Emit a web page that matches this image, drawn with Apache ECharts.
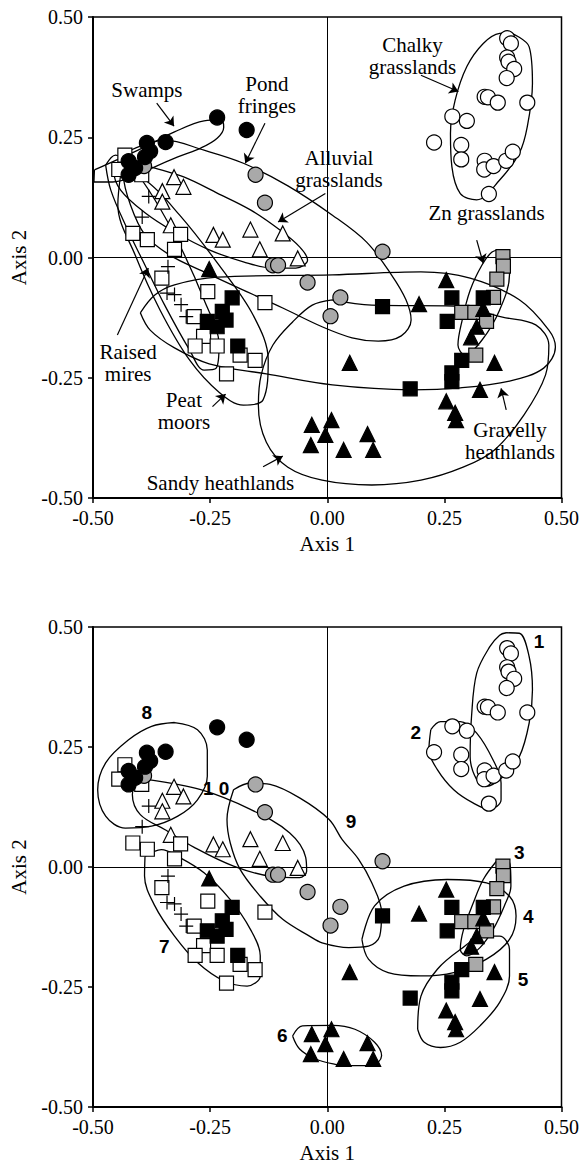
<!DOCTYPE html>
<html><head><meta charset="utf-8">
<script src="https://cdn.jsdelivr.net/npm/echarts@6/dist/echarts.min.js"></script>
<style>html,body{margin:0;padding:0;background:#fff}#c{width:582px;height:1164px}</style>
</head><body><div id="c"></div>
<script>
// ---------- data (ordination scores) ----------
const tickValues = [-0.50, -0.25, 0.00, 0.25, 0.50];

const openCircles = [[.384,.456],[.392,.445],[.384,.416],[.387,.407],[.399,.392],[.383,.373],[.336,.334],[.343,.333],[.364,.322],[.427,.322],[.267,.293],[.298,.284],[.228,.239],[.286,.234],[.286,.204],[.336,.201],[.335,.183],[.355,.190],[.382,.201],[.396,.220],[.345,.132]];
const blackCircles = [[-.235,.291],[-.172,.265],[-.345,.240],[-.385,.238],[-.378,.221],[-.389,.209],[-.424,.200],[-.410,.186],[-.424,.172]];
const greyCircles = [[-.391,.190],[-.153,.172],[-.133,.114],[-.116,-.016],[-.105,-.016],[-.042,-.052],[.007,-.122],[.028,-.083],[.118,.012]];
const openTriangles = [[-.327,.167],[-.307,.147],[-.352,.138],[-.352,.116],[-.334,.067],[-.243,.047],[-.223,.037],[-.164,.058],[-.095,.050],[-.144,.017],[-.063,-.002]];
const crosses = [[-.381,.127],[-.395,.084],[-.340,-.019],[-.342,-.074],[-.326,-.077],[-.312,-.098],[-.301,-.123]];
const openSquares = [[-.432,.213],[-.445,.183],[-.396,.172],[-.415,.050],[-.384,.037],[-.313,.048],[-.326,.017],[-.353,-.043],[-.255,-.071],[-.133,-.094],[-.284,-.123],[-.264,-.164],[-.282,-.184],[-.235,-.184],[-.186,-.203],[-.154,-.214],[-.215,-.242]];
const blackSquares = [[-.203,-.084],[-.224,-.112],[-.256,-.133],[-.235,-.144],[-.216,-.130],[-.191,-.184],[.118,-.102],[.266,-.084],[.256,-.133],[.333,-.084],[.287,-.214],[.266,-.240],[.266,-.258],[.177,-.273]];
const blackTriangles = [[-.252,-.024],[.254,-.047],[.196,-.097],[.333,-.107],[.319,-.144],[.307,-.166],[.048,-.219],[.357,-.219],[.326,-.275],[.254,-.299],[.273,-.323],[.275,-.338],[.009,-.338],[-.033,-.348],[-.004,-.369],[-.035,-.390],[.086,-.367],[.035,-.400],[.098,-.400]];
const greySquares = [[.375,.002],[.376,-.018],[.362,-.045],[.355,-.083],[.287,-.114],[.315,-.114],[.340,-.133],[.317,-.203]];

// ---------- hand-drawn outlines (upper panel) ----------
const swampsOutline = [[-.497,.182],[-.389,.230],[-.326,.261],[-.263,.284],[-.227,.286],[-.221,.271],[-.235,.248],[-.269,.228],[-.319,.209],[-.374,.186],[-.416,.167],[-.458,.157],[-.498,.157]];
const pondOutline = [[-.420,.223],[-.347,.244],[-.263,.223],[-.179,.196],[-.084,.149],[.011,.088],[.084,.032],[.137,-.036],[.168,-.088],[.179,-.130],[.158,-.163],[.109,-.174],[.053,-.167],[-.011,-.144],[-.095,-.105],[-.179,-.068],[-.263,-.030],[-.336,.005],[-.389,.047],[-.420,.109],[-.435,.172]];
const alluvialOutline = [[-.431,.203],[-.368,.186],[-.305,.167],[-.235,.134],[-.164,.099],[-.101,.057],[-.059,.022],[-.042,-.005],[-.067,-.022],[-.116,-.022],[-.179,-.009],[-.252,.016],[-.326,.053],[-.389,.093],[-.441,.140],[-.456,.182]];
const raisedOutline = [[-.473,.192],[-.452,.213],[-.420,.192],[-.368,.120],[-.315,.026],[-.263,-.088],[-.231,-.182],[-.237,-.230],[-.263,-.234],[-.294,-.192],[-.347,-.099],[-.389,-.016],[-.431,.068],[-.462,.140]];
const peatOutline = [[-.441,.172],[-.389,.161],[-.315,.088],[-.231,-.016],[-.158,-.120],[-.126,-.213],[-.137,-.296],[-.179,-.307],[-.231,-.280],[-.294,-.213],[-.357,-.109],[-.410,.005],[-.447,.109]];
const gravellyOutline = [[-.399,-.115],[-.368,-.078],[-.326,-.057],[-.235,-.041],[.011,-.036],[.200,-.030],[.305,-.043],[.410,-.088],[.473,-.151],[.487,-.186],[.462,-.230],[.389,-.257],[.284,-.271],[.179,-.275],[.011,-.265],[-.130,-.242],[-.252,-.221],[-.326,-.188],[-.378,-.151]];
const sandyOutline = [[.011,-.088],[.095,-.099],[.269,-.101],[.374,-.124],[.445,-.140],[.473,-.182],[.466,-.244],[.420,-.327],[.357,-.400],[.290,-.436],[.200,-.463],[.095,-.473],[-.011,-.463],[-.084,-.436],[-.130,-.384],[-.147,-.307],[-.141,-.244],[-.116,-.182],[-.074,-.134],[-.032,-.099]];
const znOutline = [[.368,.016],[.389,.005],[.389,-.036],[.368,-.109],[.330,-.172],[.294,-.203],[.279,-.182],[.288,-.130],[.305,-.068],[.330,-.016],[.351,.011]];
const chalkyOutline = [[.392,.467],[.431,.438],[.438,.362],[.427,.272],[.410,.217],[.368,.161],[.319,.120],[.284,.133],[.266,.189],[.263,.258],[.273,.327],[.298,.397],[.333,.445],[.368,.466]];

// ---------- outlines of the ten clusters (lower panel) ----------
const cluster1 = [[.382,.488],[.410,.487],[.431,.438],[.438,.369],[.431,.300],[.410,.230],[.375,.188],[.340,.168],[.319,.182],[.305,.230],[.308,.314],[.319,.404],[.347,.459],[.368,.483]];
const cluster2 = [[.221,.286],[.242,.303],[.284,.303],[.319,.279],[.354,.223],[.371,.175],[.371,.140],[.347,.120],[.312,.133],[.270,.161],[.235,.203],[.217,.244]];
const cluster3 = [[.361,.012],[.389,.009],[.392,-.040],[.378,-.081],[.354,-.130],[.326,-.168],[.298,-.185],[.284,-.172],[.291,-.130],[.312,-.074],[.333,-.026]];
const cluster4 = [[.074,-.151],[.101,-.081],[.164,-.040],[.256,-.026],[.340,-.033],[.389,-.061],[.403,-.102],[.389,-.151],[.340,-.192],[.270,-.220],[.200,-.227],[.130,-.220],[.088,-.192]];
const cluster5 = [[.193,-.338],[.200,-.269],[.235,-.213],[.284,-.172],[.333,-.144],[.368,-.144],[.389,-.172],[.389,-.227],[.368,-.282],[.326,-.331],[.284,-.365],[.242,-.376],[.207,-.365]];
const cluster6 = [[-.074,-.352],[-.053,-.331],[.011,-.330],[.059,-.338],[.101,-.365],[.116,-.393],[.095,-.414],[.046,-.414],[.017,-.411],[-.025,-.400],[-.059,-.379]];
const cluster7 = [[-.389,.022],[-.354,.036],[-.319,.022],[-.263,-.012],[-.207,-.068],[-.164,-.130],[-.143,-.185],[-.143,-.227],[-.171,-.248],[-.221,-.237],[-.277,-.199],[-.326,-.144],[-.368,-.081],[-.390,-.019]];
const cluster8 = [[-.326,.301],[-.277,.286],[-.256,.244],[-.256,.189],[-.277,.140],[-.319,.106],[-.375,.085],[-.431,.081],[-.473,.106],[-.490,.161],[-.473,.217],[-.424,.265],[-.375,.293]];
const cluster9 = [[-.200,.161],[-.164,.175],[-.122,.172],[-.059,.144],[.004,.099],[.032,.057],[.067,.016],[.095,-.033],[.116,-.095],[.112,-.144],[.088,-.165],[.046,-.168],[-.011,-.158],[-.038,-.144],[-.095,-.109],[-.143,-.061],[-.186,-.005],[-.207,.050],[-.214,.099]];
const cluster10 = [[-.382,.182],[-.270,.161],[-.164,.120],[-.080,.071],[-.046,.020],[-.044,-.009],[-.059,-.022],[-.116,-.020],[-.200,.002],[-.284,.041],[-.347,.078],[-.399,.109],[-.416,.151],[-.405,.174]];

// ---------- labels ----------
const topLabels = [
  {name:'Swamps', value:[-.385,.348]},
  {name:'Pond\nfringes', value:[-.129,.337]},
  {name:'Alluvial\ngrasslands', value:[.025,.185]},
  {name:'Chalky\ngrasslands', value:[.182,.418]},
  {name:'Zn grasslands', value:[.340,.092]},
  {name:'Raised\nmires', value:[-.425,-.219]},
  {name:'Peat\nmoors', value:[-.306,-.319]},
  {name:'Gravelly\nheathlands', value:[.390,-.381]},
  {name:'Sandy heathlands', value:[-.228,-.469]}
];
const topArrows = [
  [[-.364,.321],[-.327,.273]],
  [[-.133,.279],[-.175,.196]],
  [[-.004,.133],[-.105,.074]],
  [[.200,.379],[.280,.345]],
  [[.319,.036],[.333,-.012]],
  [[-.448,-.161],[-.382,-.022]],
  [[-.245,-.310],[-.217,-.284]],
  [[.382,-.317],[.371,-.272]],
  [[-.137,-.435],[-.095,-.413]]
];
const clusterLabels = [
  {name:'1', value:[.452,.469]},
  {name:'2', value:[.189,.280]},
  {name:'3', value:[.410,.030]},
  {name:'4', value:[.429,-.104]},
  {name:'5', value:[.418,-.235]},
  {name:'6', value:[-.096,-.352]},
  {name:'7', value:[-.348,-.166]},
  {name:'8', value:[-.385,.321]},
  {name:'9', value:[.051,.095]},
  {name:'1 0', value:[-.237,.163]}
];

// ---------- chart ----------
const SERIF = 'Liberation Serif';
const chart = echarts.init(document.getElementById('c'), null, {renderer:'svg'});

function axisX(gi){
  return {gridIndex:gi, type:'value', min:tickValues[0], max:tickValues[tickValues.length-1], interval:0.25,
    name:'Axis 1', nameLocation:'middle', nameGap:35,
    nameTextStyle:{fontFamily:SERIF, fontSize:21, color:'#000'},
    axisLine:{show:true, onZero:false, lineStyle:{color:'#000', width:2}},
    axisTick:{show:true, length:5, lineStyle:{color:'#000', width:1.5}},
    axisLabel:{formatter:v=>v.toFixed(2), fontFamily:SERIF, fontSize:20, color:'#000', margin:10},
    splitLine:{show:false}};
}
function axisY(gi){
  return {gridIndex:gi, type:'value', min:tickValues[0], max:tickValues[tickValues.length-1], interval:0.25,
    name:'Axis 2', nameLocation:'middle', nameGap:64,
    nameTextStyle:{fontFamily:SERIF, fontSize:21, color:'#000'},
    axisLine:{show:true, onZero:false, lineStyle:{color:'#000', width:2}},
    axisTick:{show:true, length:5, lineStyle:{color:'#000', width:1.5}},
    axisLabel:{formatter:v=>v.toFixed(2), fontFamily:SERIF, fontSize:20, color:'#000', margin:10},
    splitLine:{show:false}};
}

function outline(pts, gi){
  return {type:'line', xAxisIndex:gi, yAxisIndex:gi, data:pts.concat([pts[0]]), smooth:0.35,
    symbol:'none', silent:true, z:2, lineStyle:{color:'#000', width:1.3}};
}
const PLUS = 'path://M0,6.4H14V7.6H0ZM6.4,0H7.6V14H6.4Z';
function marks(pts, gi, symbol, size, fill, z){
  return {type:'scatter', xAxisIndex:gi, yAxisIndex:gi, data:pts, symbol:symbol, symbolSize:size, silent:true, z:z||5,
    itemStyle: symbol===PLUS ? {color:'#000', borderWidth:0, opacity:1} : {color:fill, borderColor:'#000', borderWidth:1.2, opacity:1}};
}
function textSeries(items, gi, style){
  return {type:'scatter', xAxisIndex:gi, yAxisIndex:gi, data:items, symbolSize:1, silent:true, z:8,
    itemStyle:{color:'#fff', opacity:0},
    label:Object.assign({show:true, position:'inside', formatter:'{b}', color:'#000', opacity:1,
      textBorderWidth:0, textBorderColor:'transparent', textShadowBlur:0}, style)};
}

const series = [];
[0,1].forEach(gi=>{
  series.push({type:'scatter', xAxisIndex:gi, yAxisIndex:gi, data:[], silent:true,
    markLine:{silent:true, symbol:'none', animation:false, label:{show:false},
      lineStyle:{color:'#000', width:1, type:'solid'}, data:[{xAxis:0},{yAxis:0}]}});
  series.push(marks(openCircles, gi, 'circle', 15, '#fff'));
  series.push(marks(openTriangles, gi, 'triangle', 15, '#fff'));
  series.push(marks(openSquares, gi, 'rect', 14, '#fff'));
  series.push(marks(crosses, gi, PLUS, 14, '#000'));
  series.push(marks(greyCircles, gi, 'circle', 15, '#a9a9a9', 6));
  series.push(marks(greySquares, gi, 'rect', 14, '#a9a9a9', 6));
  series.push(marks(blackCircles, gi, 'circle', 15, '#000', 7));
  series.push(marks(blackSquares, gi, 'rect', 14, '#000', 7));
  series.push(marks(blackTriangles, gi, 'triangle', 15, '#000', 7));
});
[swampsOutline, pondOutline, alluvialOutline, raisedOutline, peatOutline, gravellyOutline, sandyOutline, znOutline, chalkyOutline]
  .forEach(p=>series.push(outline(p, 0)));
[cluster1, cluster2, cluster3, cluster4, cluster5, cluster6, cluster7, cluster8, cluster9, cluster10]
  .forEach(p=>series.push(outline(p, 1)));
series.push({type:'scatter', xAxisIndex:0, yAxisIndex:0, data:[], silent:true,
  markLine:{silent:true, symbol:['none','arrow'], symbolSize:9, animation:false, label:{show:false},
    lineStyle:{color:'#000', width:1.2, type:'solid'},
    data: topArrows.map(a=>[{coord:a[0]},{coord:a[1]}])}});
series.push(textSeries(topLabels, 0, {fontFamily:SERIF, fontSize:21, lineHeight:22}));
series.push(textSeries(clusterLabels, 1, {fontFamily:'Liberation Sans', fontWeight:'bold', fontSize:19}));

chart.setOption({
  animation:false,
  backgroundColor:'#fff',
  grid:[
    {left:87, top:17, width:476, height:481, show:true, borderColor:'#000', borderWidth:1.5, backgroundColor:'transparent'},
    {left:87, top:627, width:476, height:481, show:true, borderColor:'#000', borderWidth:1.5, backgroundColor:'transparent'}
  ],
  xAxis:[axisX(0), axisX(1)],
  yAxis:[axisY(0), axisY(1)],
  series: series
});
</script>
</body></html>
